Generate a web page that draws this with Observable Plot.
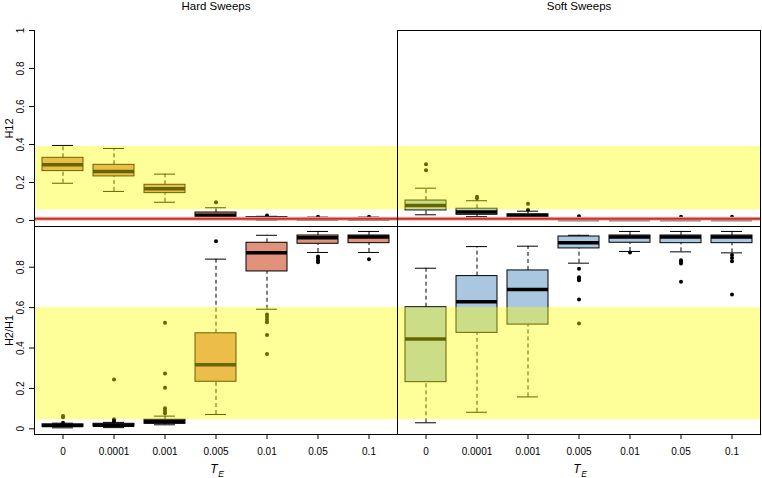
<!DOCTYPE html>
<html><head><meta charset="utf-8">
<script src="https://cdn.jsdelivr.net/npm/d3@7"></script>
<script src="https://cdn.jsdelivr.net/npm/@observablehq/plot@0.6"></script>
<style>
body{margin:0;background:#fff;}
#chart{position:relative;width:762px;height:478px;overflow:hidden;background:#fff;}
#chart svg{position:absolute;left:0;}
</style></head><body><div id="chart"></div>
<script>
const categories = ["0","0.0001","0.001","0.005","0.01","0.05","0.1"];
const panels = ["Hard Sweeps","Soft Sweeps"];
const rowLabels = ["H12","H2/H1"];
const yTicksTop = [0,0.2,0.4,0.6,0.8,1];
const yTickLabelsTop = ["0","0.2","0.4","0.6","0.8","1"];
const yTicksBottom = [0,0.2,0.4,0.6,0.8];
const yTickLabelsBottom = ["0","0.2","0.4","0.6","0.8"];

// per category: [lower whisker, Q1, median, Q3, upper whisker]
const hardH12 = [[0.196,0.26,0.293,0.33,0.395],[0.153,0.232,0.258,0.293,0.379],[0.096,0.144,0.167,0.188,0.244],[0.01,0.018,0.028,0.042,0.067],[0.0,0.004,0.01,0.018,0.022],[0,0.001,0.006,0.012,0.018],[0,0.001,0.006,0.012,0.018]];
const hardH12Out = [[],[],[],[0.096],[0.026],[0.02],[0.02]];
const softH12 = [[0.03,0.053,0.079,0.105,0.17],[0.021,0.03,0.045,0.062,0.104],[0.01,0.017,0.025,0.033,0.049],[0,0.002,0.005,0.01,0.016],[0,0.002,0.005,0.01,0.015],[0,0.002,0.005,0.01,0.015],[0,0.002,0.005,0.01,0.015]];
const softH12Out = [[0.265,0.296],[0.117,0.125],[0.056,0.088],[0.023],[],[0.02],[0.02]];
const hardH2H1 = [[0.005,0.01,0.016,0.022,0.028],[0.006,0.012,0.018,0.025,0.032],[0.02,0.025,0.035,0.045,0.063],[0.071,0.233,0.317,0.473,0.84],[0.592,0.779,0.871,0.921,0.958],[0.873,0.916,0.946,0.957,0.977],[0.873,0.919,0.949,0.957,0.977]];
const hardH2H1Out = [[0.057,0.064,0.03],[0.244,0.048,0.038],[0.525,0.274,0.203,0.102,0.09,0.077],[0.929],[0.566,0.553,0.54,0.528,0.465,0.371],[0.853,0.845,0.835,0.825],[0.84]];
const softH2H1 = [[0.03,0.231,0.445,0.602,0.795],[0.082,0.475,0.629,0.756,0.902],[0.158,0.516,0.69,0.784,0.904],[0.82,0.893,0.921,0.952,0.958],[0.878,0.921,0.949,0.957,0.977],[0.876,0.919,0.949,0.957,0.977],[0.871,0.919,0.949,0.957,0.977]];
const softH2H1Out = [[],[],[],[0.792,0.75,0.742,0.735,0.64,0.521],[0.873],[0.835,0.826,0.818,0.728],[0.861,0.846,0.83,0.665]];

const h12Band = [0.056, 0.39];
const h2h1Band = [0.045, 0.6];
const h12Threshold = [0.009];
const panelFill = {"Hard Sweeps": "#e2917a", "Soft Sweeps": "#a9c7e0"};

function rows(stats, panel) {
  return stats.map((s, i) => ({panel, cat: categories[i], lo: s[0], q1: s[1], med: s[2], q3: s[3], hi: s[4], fill: panelFill[panel]}));
}
function outs(out, panel) {
  return out.flatMap((vals, i) => vals.map(v => ({panel, cat: categories[i], v})));
}
function boxMarks(r, o) {
  const base = {fx: "panel", x: "cat"};
  return [
    Plot.ruleX(r, {...base, y1: "q3", y2: "hi", stroke: "#000", strokeDasharray: "4,3"}),
    Plot.ruleX(r, {...base, y1: "lo", y2: "q1", stroke: "#000", strokeDasharray: "4,3"}),
    Plot.tickY(r, {...base, y: "hi", insetLeft: 15, insetRight: 15, stroke: "#000"}),
    Plot.tickY(r, {...base, y: "lo", insetLeft: 15, insetRight: 15, stroke: "#000"}),
    Plot.barY(r, {...base, y1: "q1", y2: "q3", fill: "fill", stroke: "#000", strokeWidth: 1, insetLeft: 5, insetRight: 5}),
    Plot.tickY(r, {...base, y: "med", insetLeft: 5, insetRight: 5, stroke: "#000", strokeWidth: 3.5}),
    Plot.dot(o, {...base, y: "v", r: 2, fill: "#000", stroke: null})
  ];
}
const style = {fontFamily: "'Liberation Sans', Arial, sans-serif", fontSize: "10px", background: "transparent", color: "#000", overflow: "visible"};
const hard = () => panels[0];
const mid = {textAnchor: "middle", lineAnchor: "middle"};

const topRows = [...rows(hardH12, panels[0]), ...rows(softH12, panels[1])];
const topOuts = [...outs(hardH12Out, panels[0]), ...outs(softH12Out, panels[1])];
const botRows = [...rows(hardH2H1, panels[0]), ...rows(softH2H1, panels[1])];
const botOuts = [...outs(hardH2H1Out, panels[0]), ...outs(softH2H1Out, panels[1])];

const topPlot = Plot.plot({
  width: 762, height: 226, marginTop: 30, marginBottom: 0, marginLeft: 33, marginRight: 2,
  style,
  fx: {domain: panels, padding: 0, axis: null, label: null},
  x: {domain: categories, padding: 0, axis: null},
  y: {domain: [-0.0316, 1], axis: null},
  color: {type: "identity"},
  marks: [
    ...boxMarks(topRows, topOuts),
    Plot.ruleY(h12Threshold, {y: d => d, stroke: "#f0b4ac", strokeWidth: 4}),
    Plot.ruleY(h12Threshold, {y: d => d, stroke: "#c8322a", strokeWidth: 2}),
    Plot.rect([h12Band], {y1: d => d[0], y2: d => d[1], fill: "#ffff00", fillOpacity: 0.4}),
    Plot.axisY({ticks: yTicksTop, tickSize: 5, tickFormat: () => "", label: null}),
    Plot.text(yTicksTop, {fx: hard, y: d => d, text: (d, i) => yTickLabelsTop[i], frameAnchor: "left", dx: -14, rotate: -90, fontSize: 10, ...mid}),
    Plot.text([rowLabels[0]], {fx: hard, text: d => d, frameAnchor: "left", dx: -25.5, rotate: -90, fontSize: 11, ...mid}),
    Plot.text(panels, {fx: d => d, text: d => d, frameAnchor: "top", dy: -24, fontSize: 11.5, ...mid}),
    Plot.frame({anchor: "left"}),
    Plot.frame({anchor: "bottom"}),
    Plot.frame({anchor: "top", facetAnchor: "right"}),
    Plot.frame({anchor: "right", facetAnchor: "right"})
  ]
});
topPlot.style.top = "0px";

const botPlot = Plot.plot({
  width: 762, height: 252, marginTop: 0, marginBottom: 44, marginLeft: 33, marginRight: 2,
  style,
  fx: {domain: panels, padding: 0, axis: null, label: null},
  x: {domain: categories, padding: 0, axis: null},
  y: {domain: [-0.028, 1.0015], axis: null},
  color: {type: "identity"},
  marks: [
    ...boxMarks(botRows, botOuts),
    Plot.rect([h2h1Band], {y1: d => d[0], y2: d => d[1], fill: "#ffff00", fillOpacity: 0.4}),
    Plot.axisY({ticks: yTicksBottom, tickSize: 5, tickFormat: () => "", label: null}),
    Plot.axisX({tickSize: 5, tickPadding: 8, label: null, fontSize: 10}),
    Plot.text(yTicksBottom, {fx: hard, y: d => d, text: (d, i) => yTickLabelsBottom[i], frameAnchor: "left", dx: -14, rotate: -90, fontSize: 10, ...mid}),
    Plot.text([rowLabels[1]], {fx: hard, text: d => d, frameAnchor: "left", dx: -25.5, rotate: -90, fontSize: 11, ...mid}),
    Plot.text(panels, {fx: d => d, text: () => "T", frameAnchor: "bottom", dx: -2, dy: 35, fontSize: 12, fontStyle: "italic", ...mid}),
    Plot.text(panels, {fx: d => d, text: () => "E", frameAnchor: "bottom", dx: 5, dy: 40, fontSize: 8.5, fontStyle: "italic", ...mid}),
    Plot.frame({anchor: "left"}),
    Plot.frame({anchor: "bottom"}),
    Plot.frame({anchor: "right", facetAnchor: "right"})
  ]
});
botPlot.style.top = "226px";

const chart = document.getElementById("chart");
chart.append(topPlot, botPlot);
</script>
</body></html>
